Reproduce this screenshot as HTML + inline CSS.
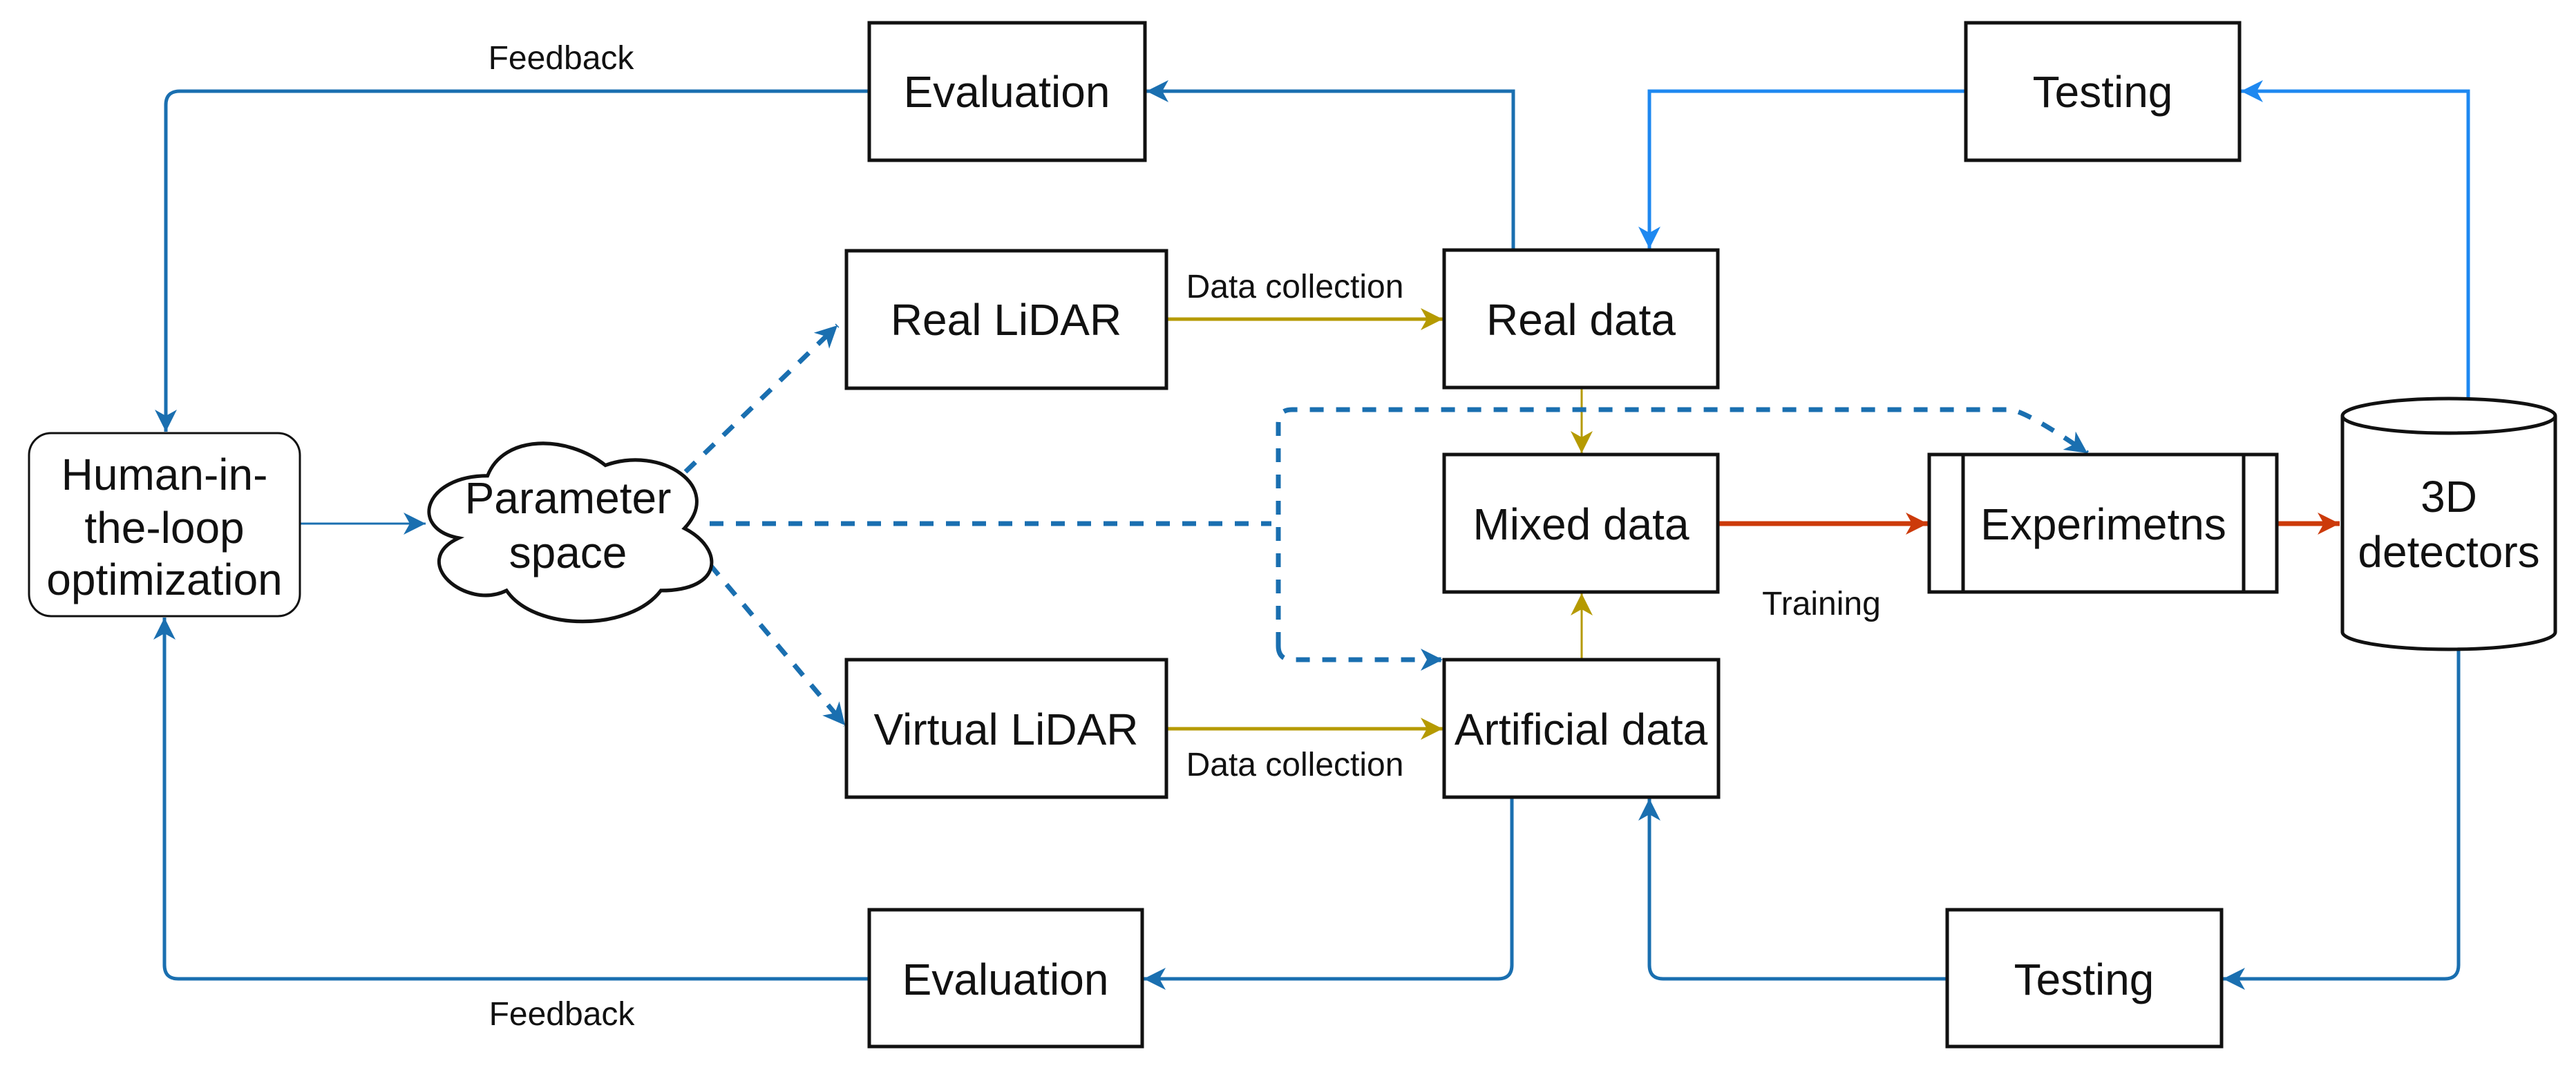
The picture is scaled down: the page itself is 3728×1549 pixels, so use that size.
<!DOCTYPE html>
<html><head><meta charset="utf-8"><style>
html,body{margin:0;padding:0;background:#fff;}
svg{display:block;}
text{font-family:"Liberation Sans",Arial,sans-serif;fill:#111;}
</style></head><body>
<svg width="3728" height="1549" viewBox="0 0 3728 1549" xmlns="http://www.w3.org/2000/svg">
<defs>
<marker id="ab" markerUnits="userSpaceOnUse" markerWidth="36" markerHeight="36" refX="32" refY="16" orient="auto"><path d="M0,0 L32,16 L0,32 L9,16 Z" fill="#1a6fb0"/></marker>
<marker id="abs" markerUnits="userSpaceOnUse" markerWidth="36" markerHeight="36" refX="32" refY="16" orient="auto"><path d="M0,0 L32,16 L0,32 L9,16 Z" fill="#1e88f0"/></marker>
<marker id="ag" markerUnits="userSpaceOnUse" markerWidth="36" markerHeight="36" refX="32" refY="16" orient="auto"><path d="M0,0 L32,16 L0,32 L9,16 Z" fill="#b59a00"/></marker>
<marker id="ar" markerUnits="userSpaceOnUse" markerWidth="36" markerHeight="36" refX="32" refY="16" orient="auto"><path d="M0,0 L32,16 L0,32 L9,16 Z" fill="#cc3a0a"/></marker>
</defs>

<g fill="none" stroke="#1a6fb0" stroke-width="5">
<path d="M1258,132 L260,132 Q240,132 240,152 L240,625" marker-end="url(#ab)"/>
<path d="M1258,1417 L258,1417 Q238,1417 238,1397 L238,894" marker-end="url(#ab)"/>
<path d="M434,758 L616,758" stroke-width="3" marker-end="url(#ab)"/>
<path d="M2190,362 L2190,132 L1659,132" marker-end="url(#ab)"/>
<path d="M2188,1154 L2188,1397 Q2188,1417 2168,1417 L1655,1417" marker-end="url(#ab)"/>
<path d="M2818,1417 L2407,1417 Q2387,1417 2387,1397 L2387,1156" marker-end="url(#ab)"/>
<path d="M3558,940 L3558,1397 Q3558,1417 3538,1417 L3217,1417" marker-end="url(#ab)"/>
</g>
<g fill="none" stroke="#1e88f0" stroke-width="5">
<path d="M2845,132 L2387,132 L2387,360" marker-end="url(#abs)"/>
<path d="M3572,577 L3572,132 L3243,132" marker-end="url(#abs)"/>
</g>
<g fill="none" stroke="#b59a00" stroke-width="5">
<path d="M1688,462 L2088,462" marker-end="url(#ag)"/>
<path d="M1688,1055 L2088,1055" marker-end="url(#ag)"/>
</g>
<g fill="none" stroke="#b59a00" stroke-width="3">
<path d="M2289,561 L2289,656" marker-end="url(#ag)"/>
<path d="M2289,955 L2289,859" marker-end="url(#ag)"/>
</g>
<g fill="none" stroke="#cc3a0a" stroke-width="7">
<path d="M2486,758 L2790,758" marker-end="url(#ar)"/>
<path d="M3295,758 L3386,758" marker-end="url(#ar)"/>
</g>
<g fill="none" stroke="#1a6fb0" stroke-width="7" stroke-dasharray="20,18">
<path d="M992,683 L1212,471" marker-end="url(#ab)"/>
<path d="M1027,817 L1223,1050" marker-end="url(#ab)"/>
<path d="M1027,758 L1840,758"/>
<path d="M1850,935 Q1850,955 1870,955 L2088,955" marker-end="url(#ab)"/>
<path d="M1850,935 L1850,613 Q1850,593 1870,593 L2907,593 Q2930,593 3021,656" marker-end="url(#ab)"/>
</g>

<g fill="#fff" stroke="#111" stroke-width="5">
<rect x="1258" y="33" width="399" height="199"/>
<rect x="2845" y="33" width="396" height="199"/>
<rect x="1225" y="363" width="463" height="199"/>
<rect x="2090" y="362" width="396" height="199"/>
<rect x="2090" y="658" width="396" height="199"/>
<rect x="2792" y="658" width="503" height="199"/>
<line x1="2841" y1="658" x2="2841" y2="857"/>
<line x1="3247" y1="658" x2="3247" y2="857"/>
<rect x="1225" y="955" width="463" height="199"/>
<rect x="2090" y="955" width="397" height="199"/>
<rect x="1258" y="1317" width="395" height="198"/>
<rect x="2818" y="1317" width="397" height="198"/>
<rect x="42" y="627" width="392" height="265" rx="32" ry="32" stroke-width="3"/>
<path d="M3390,602 L3390,915 A154,25 0 0 0 3698,915 L3698,602"/>
<ellipse cx="3544" cy="602" rx="154" ry="25"/>
<g transform="translate(820,766) scale(1.1,1.17) translate(-820,-766)">
<path d="M716,700 C633,700 612,765 678,777 C612,806 687,867 741,842 C778,893 903,893 944,842 C1027,842 1027,790 975,765 C1027,713 944,662 871,687 C820,649 737,649 716,700 Z" stroke-width="4.5"/>
</g>
</g>

<g font-size="64" text-anchor="middle">
<text x="1457" y="155">Evaluation</text>
<text x="3043" y="155">Testing</text>
<text x="1456" y="485">Real LiDAR</text>
<text x="2288" y="485">Real data</text>
<text x="2288" y="781">Mixed data</text>
<text x="3044" y="781">Experimetns</text>
<text x="1456" y="1078">Virtual LiDAR</text>
<text x="2288" y="1078">Artificial data</text>
<text x="1455" y="1440">Evaluation</text>
<text x="3016" y="1440">Testing</text>
<text x="3544" y="741">3D</text>
<text x="3544" y="821">detectors</text>
<text x="238" y="709">Human-in-</text>
<text x="238" y="786">the-loop</text>
<text x="238" y="861">optimization</text>
<text x="822" y="743">Parameter</text>
<text x="822" y="822">space</text>
</g>
<g font-size="48" text-anchor="middle">
<text x="812" y="100">Feedback</text>
<text x="813" y="1484">Feedback</text>
<text x="1874" y="431">Data collection</text>
<text x="1874" y="1123">Data collection</text>
<text x="2636" y="890">Training</text>
</g>
</svg>
</body></html>
